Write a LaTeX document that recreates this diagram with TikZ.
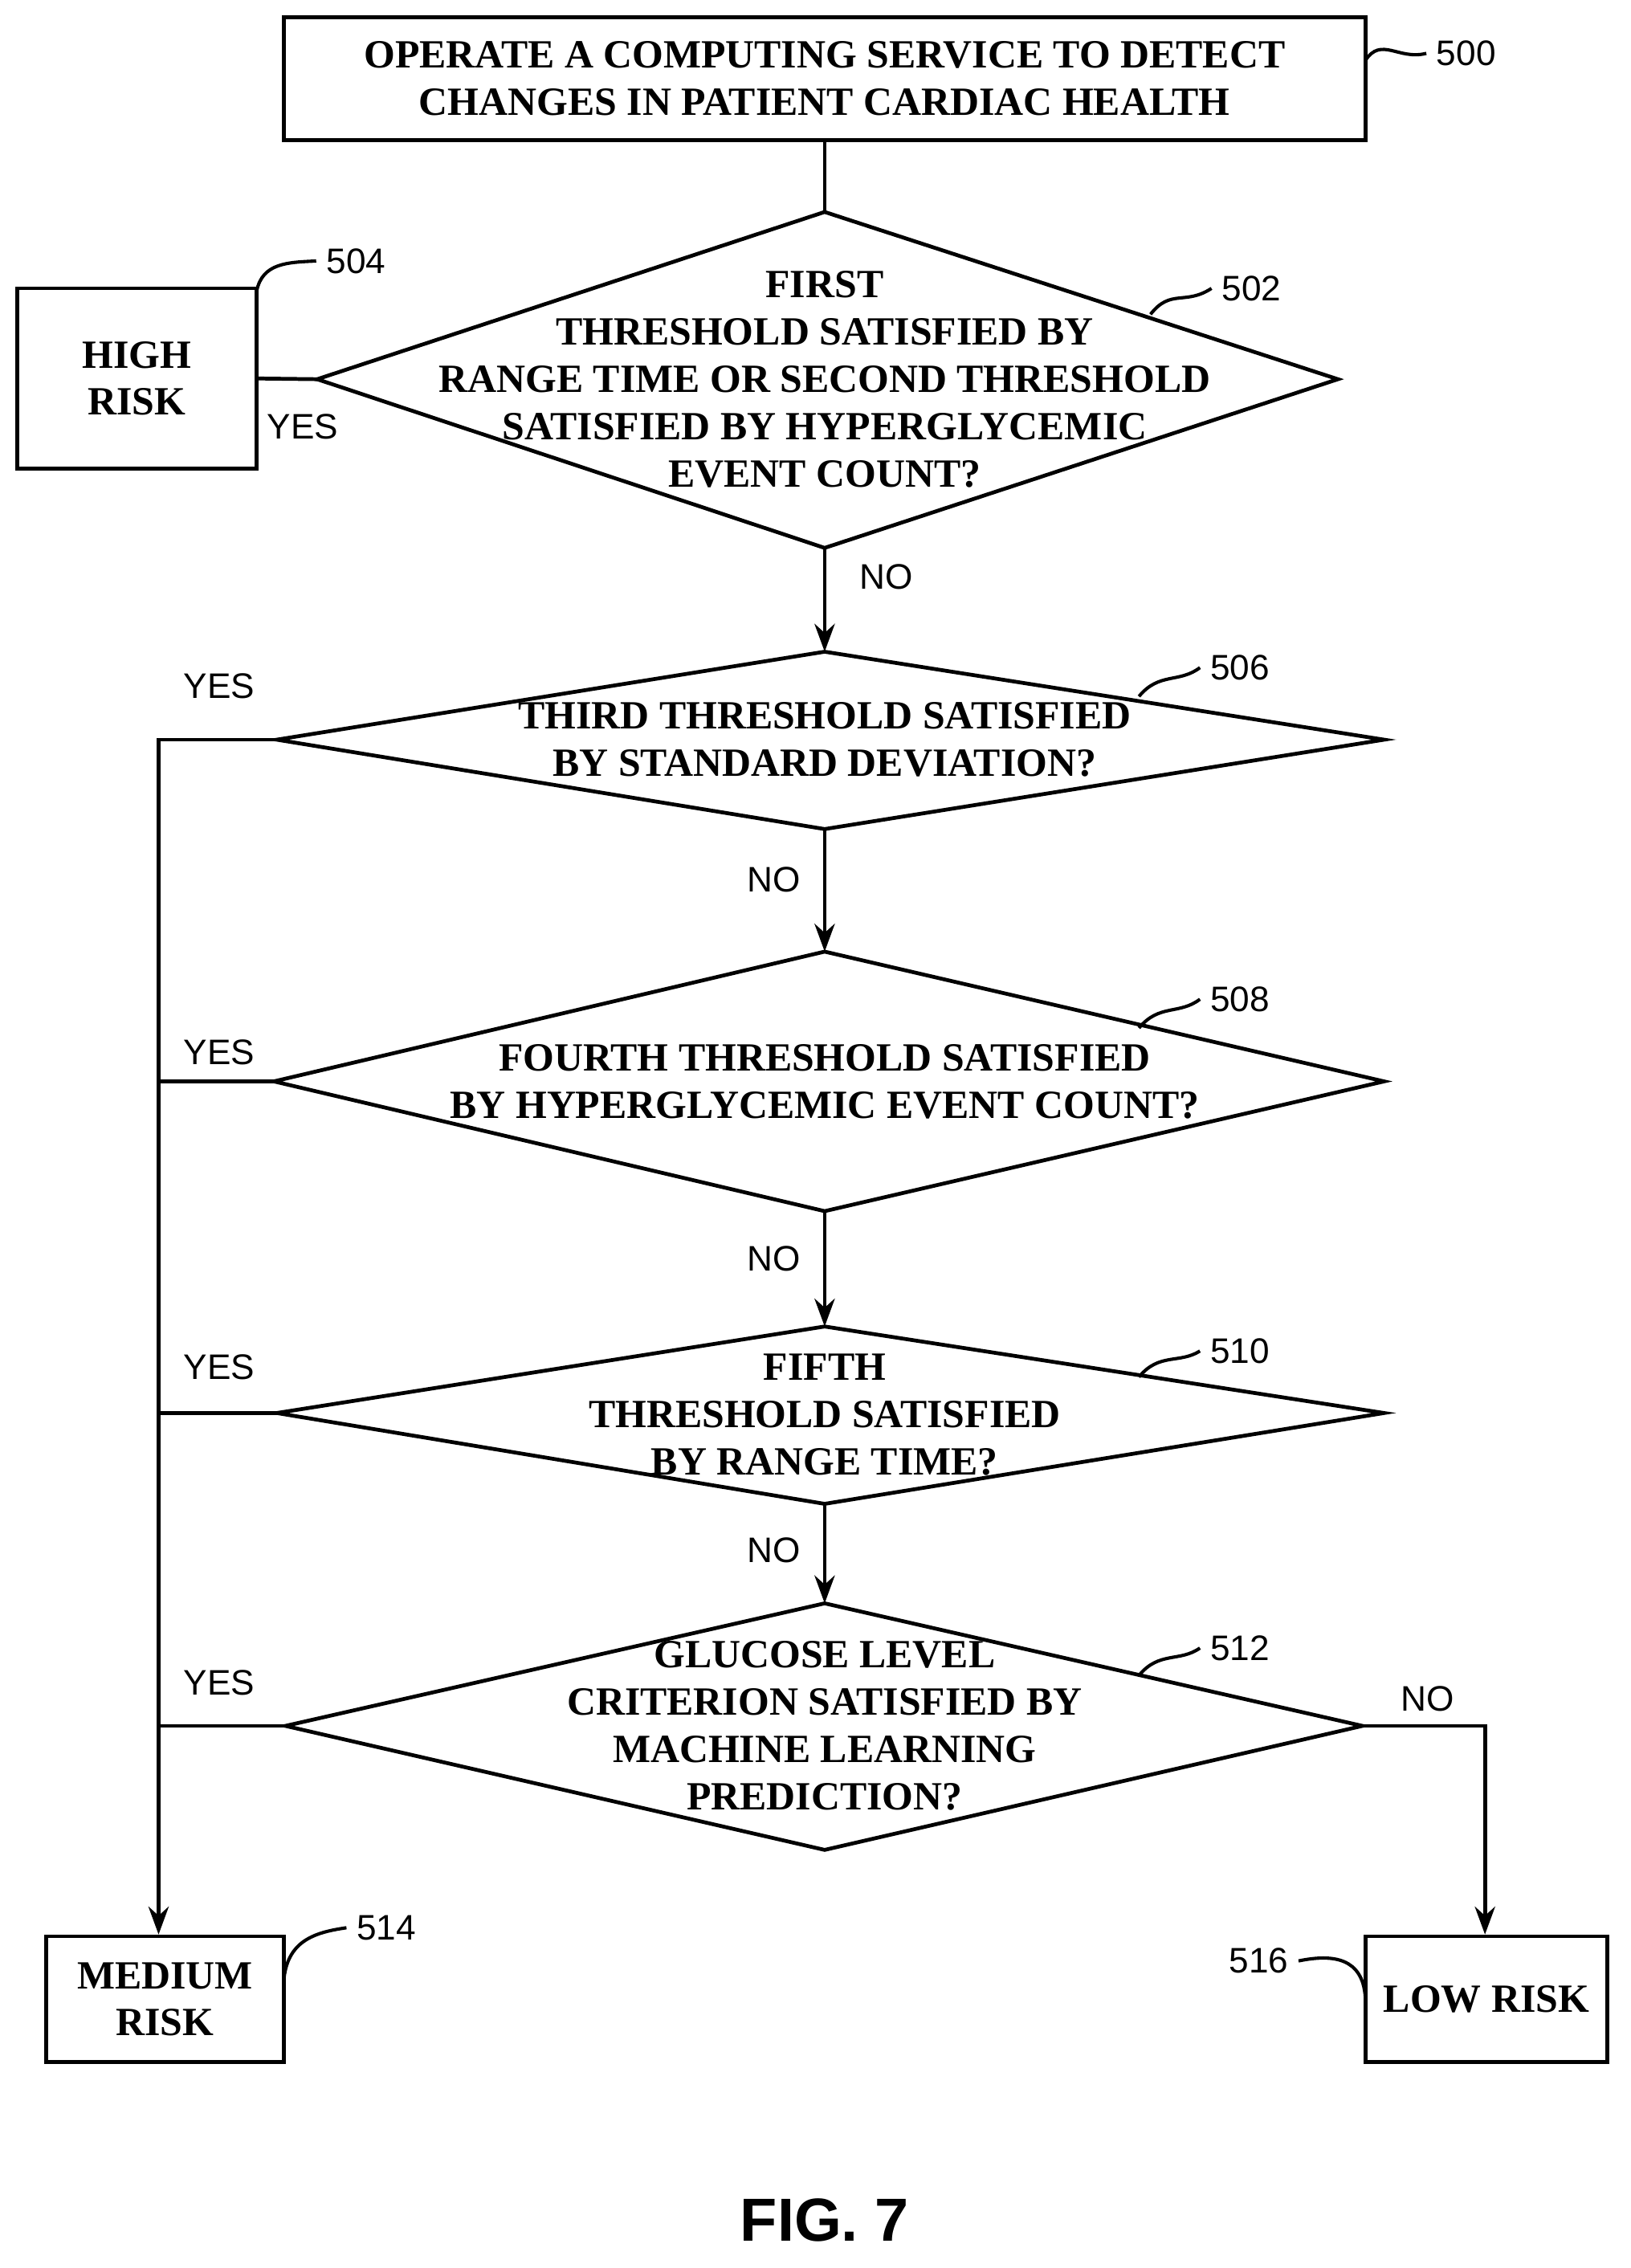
\documentclass[tikz,border=0pt]{standalone}
\usepackage{fontspec}
\setmainfont{Liberation Serif}
\setsansfont{Liberation Sans}
\usetikzlibrary{arrows.meta}
\begin{document}
\begin{tikzpicture}[x=0.02cm,y=-0.02cm,line width=1.5pt,
  box/.style={draw,line width=1.5pt,align=center,font=\fontsize{15.8}{18.5}\selectfont\bfseries},
  txt/.style={align=center,font=\fontsize{15.8}{18.7}\selectfont\bfseries},
  lbl/.style={font=\fontsize{14}{16}\selectfont\sffamily},
  arr/.style={-{Stealth[length=11pt,width=8pt]}},
  lead/.style={line width=1.3pt}]
\useasboundingbox (0,0) rectangle (1131,1573);
% box 500
\node[box,minimum width=750*0.02cm,minimum height=85*0.02cm] (b500) at (572,54.5) {OPERATE A COMPUTING SERVICE TO DETECT\\CHANGES IN PATIENT CARDIAC HEALTH};
\node[lbl] (l500) at (1017,37) {500};
\draw[lead] (947,42) .. controls (958,25) and (970,42) .. (l500.west);
% diamond 502
\coordinate (d2t) at (572,147); \coordinate (d2b) at (572,380);
\coordinate (d2l) at (220,263); \coordinate (d2r) at (928,263);
\draw (d2t)--(d2r)--(d2b)--(d2l)--cycle;
\node[txt] (t502) at (572,263) {FIRST\\THRESHOLD SATISFIED BY\\RANGE TIME OR SECOND THRESHOLD\\SATISFIED BY HYPERGLYCEMIC\\EVENT COUNT?};
\node[lbl] (l502) at (868,200) {502};
\draw[lead] (798,218) .. controls (812,200) and (822,212) .. (l502.west);
\draw (b500.south) -- (d2t);
% high risk
\node[box,minimum width=166*0.02cm,minimum height=125*0.02cm] (b504) at (95,262.5) {HIGH\\RISK};
\node[lbl] (l504) at (247,181) {504};
\draw[lead] (178,202) .. controls (182,182) and (200,182) .. (l504.west);
\draw (d2l) -- (b504.east);
\node[lbl] at (210,296) {YES};
% diamond 506
\coordinate (d6t) at (572,452); \coordinate (d6b) at (572,575);
\coordinate (d6l) at (192,513); \coordinate (d6r) at (960,513);
\draw (d6t)--(d6r)--(d6b)--(d6l)--cycle;
\node[txt] at (572,513) {THIRD THRESHOLD SATISFIED\\BY STANDARD DEVIATION?};
\node[lbl] (l506) at (860,463) {506};
\draw[lead] (790,483) .. controls (804,466) and (818,474) .. (l506.west);
\draw[arr] (d2b) -- (d6t); \node[lbl] at (615,400) {NO};
% diamond 508
\coordinate (d8t) at (572,660); \coordinate (d8b) at (572,840);
\coordinate (d8l) at (190,750); \coordinate (d8r) at (960,750);
\draw (d8t)--(d8r)--(d8b)--(d8l)--cycle;
\node[txt] at (572,750) {FOURTH THRESHOLD SATISFIED\\BY HYPERGLYCEMIC EVENT COUNT?};
\node[lbl] (l508) at (860,693) {508};
\draw[lead] (790,713) .. controls (804,696) and (818,704) .. (l508.west);
\draw[arr] (d6b) -- (d8t); \node[lbl] at (537,610) {NO};
% diamond 510
\coordinate (dat) at (572,920); \coordinate (dab) at (572,1043);
\coordinate (dal) at (192,980); \coordinate (dar) at (960,980);
\draw (dat)--(dar)--(dab)--(dal)--cycle;
\node[txt] at (572,981) {FIFTH\\THRESHOLD SATISFIED\\BY RANGE TIME?};
\node[lbl] (l510) at (860,937) {510};
\draw[lead] (790,955) .. controls (804,938) and (818,946) .. (l510.west);
\draw[arr] (d8b) -- (dat); \node[lbl] at (537,873) {NO};
% diamond 512
\coordinate (dct) at (572,1112); \coordinate (dcb) at (572,1283);
\coordinate (dcl) at (198,1197); \coordinate (dcr) at (945,1197);
\draw (dct)--(dcr)--(dcb)--(dcl)--cycle;
\node[txt] at (572,1197) {GLUCOSE LEVEL\\CRITERION SATISFIED BY\\MACHINE LEARNING\\PREDICTION?};
\node[lbl] (l512) at (860,1143) {512};
\draw[lead] (790,1162) .. controls (804,1145) and (818,1153) .. (l512.west);
\draw[arr] (dab) -- (dct); \node[lbl] at (537,1075) {NO};
% medium / low
\node[box,minimum width=165*0.02cm,minimum height=87*0.02cm] (b514) at (114.5,1386.5) {MEDIUM\\RISK};
\node[lbl] (l514) at (268,1337) {514};
\draw[lead] (197,1372) .. controls (200,1345) and (220,1340) .. (l514.west);
\node[box,minimum width=168*0.02cm,minimum height=87*0.02cm] (b516) at (1031,1386.5) {LOW RISK};
\node[lbl] (l516) at (873,1360) {516};
\draw[lead] (l516.east) .. controls (925,1355) and (945,1358) .. (947,1385);
% YES bus
\coordinate (bus) at (110,513);
\draw[arr] (d6l) -- (bus) -- (b514.north -| bus);
\draw (d8l) -- (110,750);
\draw (dal) -- (110,980);
\draw (dcl) -- (110,1197);
\node[lbl] at (152,476) {YES};
\node[lbl] at (152,730) {YES};
\node[lbl] at (152,948) {YES};
\node[lbl] at (152,1167) {YES};
% NO right
\coordinate (nr) at (1030,1197);
\draw[arr] (dcr) -- (nr) -- (b516.north -| nr);
\node[lbl] at (990,1178) {NO};
\node[font=\fontsize{24}{28}\selectfont\sffamily\bfseries] (fig) at (572,1540) {FIG. 7};
\end{tikzpicture}
\end{document}
